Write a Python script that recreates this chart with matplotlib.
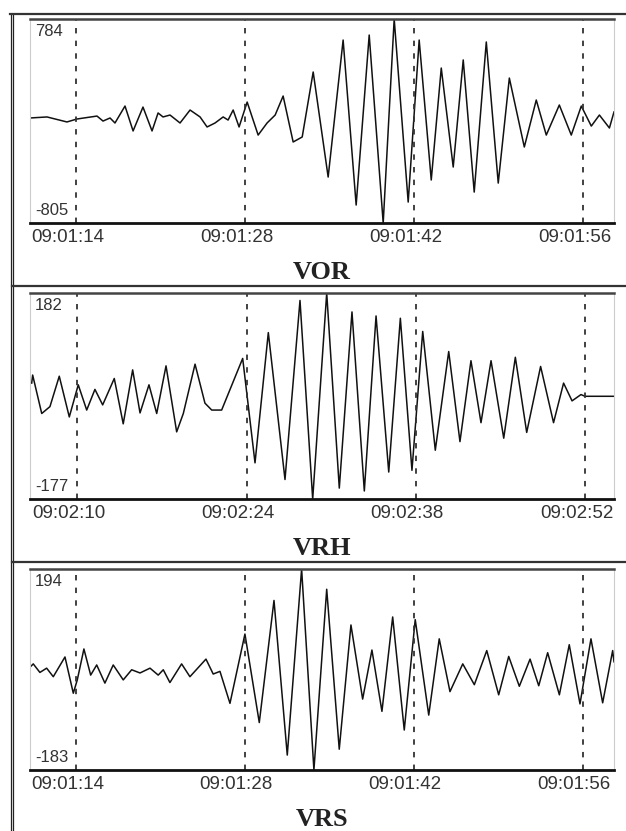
import matplotlib
matplotlib.use('Agg')
import matplotlib.pyplot as plt
from matplotlib.lines import Line2D

W, H = 626, 831

# seconds after the minute, amplitude (counts)
vor_t = [10.19, 11.6, 13.25, 14.08, 15.74, 16.24, 16.82, 17.23, 18.06, 18.73,
         19.55, 20.30, 20.80, 21.21, 21.79, 22.62, 23.45, 24.28, 24.86, 25.52,
         26.19, 26.60, 27.02, 27.51, 28.18, 29.09, 29.83, 30.50, 31.16, 31.99,
         32.74, 33.65, 34.89, 36.13, 37.21, 38.29, 39.45, 40.36, 41.52, 42.43,
         43.43, 44.26, 45.25, 46.08, 46.99, 47.99, 48.98, 49.90, 51.14, 52.13,
         52.96, 54.04, 55.03, 55.86, 56.69, 57.36, 58.19, 58.57]
vor_v = [13, 21, -18, 5, 28, -11, 13, -26, 106, -88,
         98, -88, 52, 21, 36, -26, 75, 21, -57, -26,
         21, -3, 75, -57, 137, -120, -26, 36, 184, -174,
         -135, 371, -447, 620, -665, 659, -805, 784, -642, 620,
         -470, 402, -369, 465, -564, 605, -494, 324, -213, 153,
         -120, 114, -120, 106, -50, 36, -65, 60]

vrh_t = [6.23, 6.31, 7.06, 7.74, 8.51, 9.34, 10.08, 10.78, 11.46, 12.10,
         13.06, 13.80, 14.58, 15.19, 15.93, 16.57, 17.34, 18.22, 18.77, 19.74,
         20.56, 21.12, 21.94, 23.68, 24.70, 25.80, 27.18, 28.42, 29.47, 30.63,
         31.67, 32.72, 33.74, 34.71, 35.76, 36.72, 37.68, 38.57, 39.61, 40.72,
         41.65, 42.56, 43.39, 44.22, 45.27, 46.23, 47.17, 48.32, 49.39, 50.22,
         50.92, 51.66, 51.99, 54.39]
vrh_v = [25, 39, -28, -16, 37, -34, 22, -22, 14, -13,
         33, -46, 48, -27, 22, -28, 55, -60, -28, 58,
         -10, -22, -22, 68, -114, 113, -143, 169, -177, 182,
         -158, 149, -163, 142, -130, 138, -127, 115, -92, 80,
         -77, 64, -44, 64, -71, 70, -61, 54, -44, 25,
         -6, 5, 2, 2]

vrs_t = [10.24, 10.46, 11.01, 11.57, 12.12, 13.09, 13.78, 14.11, 14.66, 15.22,
         15.72, 16.40, 17.09, 17.92, 18.62, 19.31, 20.14, 20.82, 21.24, 21.79,
         22.76, 23.45, 24.78, 25.38, 25.94, 26.77, 28.01, 29.20, 30.42, 31.52,
         32.71, 33.73, 34.79, 35.83, 36.80, 37.77, 38.54, 39.37, 40.26, 41.22,
         42.13, 43.25, 44.12, 45.01, 46.07, 47.03, 48.06, 49.05, 49.88, 50.76,
         51.65, 52.37, 53.11, 54.08, 54.90, 55.79, 56.70, 57.67, 58.50, 58.61]
vrs_v = [11, 16, 0, 8, -8, 29, -39, -14, 44, -5,
         14, -20, 14, -14, 5, -1, 8, -5, 5, -19,
         16, -8, 25, -3, 2, -58, 72, -94, 135, -155,
         194, -183, 156, -144, 89, -50, 42, -73, 104, -108,
         99, -80, 63, -36, 16, -23, 41, -42, 30, -26,
         25, -25, 37, -42, 52, -59, 63, -57, 41, 20]

names = ['VOR', 'VRH', 'VRS']
minutes = ['09:01', '09:02', '09:01']
ticks = [[14, 28, 42, 56], [10, 24, 38, 52], [14, 28, 42, 56]]
ylims = [(-805, 784), (-177, 182), (-183, 194)]
xlims = [(10.19, 58.57), (6.09, 54.39), (10.19, 58.61)]
series = [(vor_t, vor_v), (vrh_t, vrh_v), (vrs_t, vrs_v)]

# panel boxes in pixels: top, bottom
boxes = [(19, 223), (293, 499), (569, 770)]
LEFT, RIGHT = 30, 614


def fx(x):
  return x / W


def fy(y):
  return 1 - y / H


fig = plt.figure(figsize=(W / 100, H / 100), dpi=100)

# outer frame
for x in (10.7, 13.3):
  fig.add_artist(Line2D([fx(x), fx(x)], [fy(13.5), 0], color='#222', lw=0.9))
fig.add_artist(Line2D([fx(10), 1], [fy(13.5), fy(13.5)], color='#333', lw=1.6))
for y in (286, 562):
  fig.add_artist(Line2D([fx(12), 1], [fy(y), fy(y)], color='#333', lw=1.6))

for i in range(3):
  top, bot = boxes[i]
  ax = fig.add_axes([fx(LEFT), fy(bot), fx(RIGHT) - fx(LEFT), (bot - top) / H])
  t, v = series[i]
  ax.plot(t, v, color='#111', lw=1.1)
  ax.set_xlim(*xlims[i])
  ax.set_ylim(*ylims[i])
  for tk in ticks[i]:
    ax.axvline(tk, color='#333', lw=1.3, dashes=(3, 4))
  ax.set_xticks([])
  ax.set_yticks([])
  ax.spines['left'].set_color('#cccccc')
  ax.spines['right'].set_color('#cccccc')
  ax.spines['left'].set_linewidth(0.8)
  ax.spines['right'].set_linewidth(0.8)
  ax.spines['top'].set_color('#444')
  ax.spines['top'].set_linewidth(1.8)
  ax.spines['bottom'].set_color('#111')
  ax.spines['bottom'].set_linewidth(2.0)

  # amplitude labels inside the box
  ax.text(fx(35), fy(top + 5), str(ylims[i][1]), transform=fig.transFigure,
          ha='left', va='top', fontsize=12, color='#333', family='Liberation Sans')
  ax.text(fx(35), fy(bot - 5), str(ylims[i][0]), transform=fig.transFigure,
          ha='left', va='bottom', fontsize=12, color='#333', family='Liberation Sans')

  # time labels
  for tk in ticks[i]:
    ax.annotate('%s:%02d' % (minutes[i], tk), xy=(tk - 0.7, 0), xycoords=('data', 'axes fraction'),
                xytext=(0, -6), textcoords='offset pixels', ha='center', va='top',
                fontsize=13.5, color='#333', family='Liberation Sans',
                annotation_clip=False)

  fig.text(fx(322), fy(bot + 56), names[i], ha='center', va='baseline',
           fontsize=19, fontweight='bold', family='Liberation Serif', color='#222')

fig.savefig('out.png', dpi=100)
